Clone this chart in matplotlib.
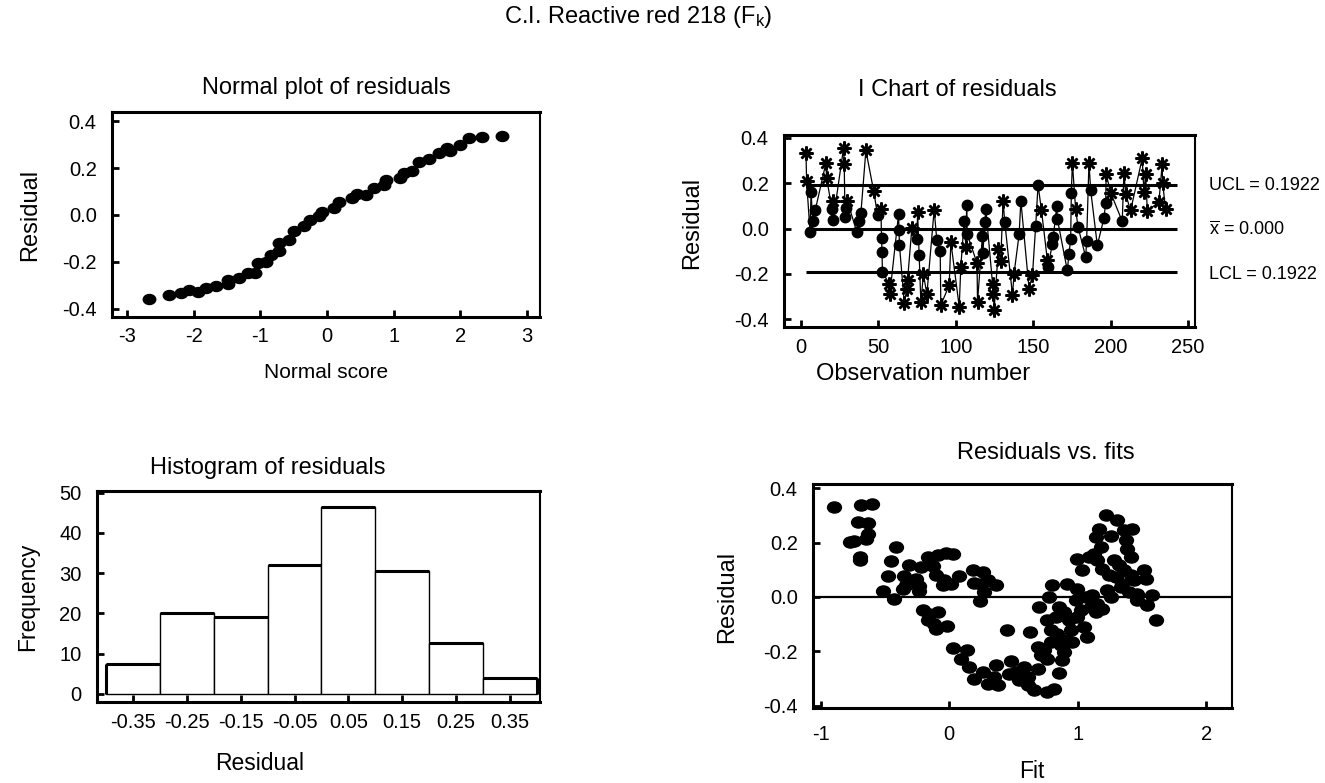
import numpy as np
import matplotlib
matplotlib.use('Agg')
import matplotlib.pyplot as plt
from matplotlib.path import Path
from matplotlib.transforms import Affine2D

plt.rcParams['font.family'] = ['Liberation Sans', 'DejaVu Sans']
plt.rcParams['axes.unicode_minus'] = False
plt.rcParams['mathtext.fontset'] = 'custom'
plt.rcParams['mathtext.rm'] = 'Liberation Sans'
plt.rcParams['mathtext.it'] = 'Liberation Sans:italic'

# ---------------- data ----------------
# Normal plot of residuals
norm_score = [-2.67, -2.37, -2.19, -2.07, -1.93, -1.81, -1.66, -1.49, -1.49, -1.32,
              -1.19, -1.08, -1.04, -0.92, -0.845, -0.72, -0.72, -0.57, -0.495, -0.345,
              -0.26, -0.12, -0.08, 0.10, 0.18, 0.38, 0.45, 0.59, 0.70, 0.855,
              0.89, 1.10, 1.155, 1.28, 1.38, 1.53, 1.68, 1.80, 1.85, 2.0,
              2.13, 2.32, 2.63]
norm_res = [-0.359, -0.342, -0.335, -0.32, -0.33, -0.31, -0.303, -0.295, -0.278, -0.27,
            -0.249, -0.249, -0.207, -0.2, -0.171, -0.154, -0.121, -0.107, -0.067, -0.046,
            -0.021, -0.004, 0.014, 0.028, 0.057, 0.071, 0.09, 0.085, 0.114, 0.128,
            0.15, 0.157, 0.181, 0.19, 0.228, 0.238, 0.264, 0.285, 0.275, 0.299,
            0.328, 0.335, 0.338]

# I chart of residuals
ich_obs = [3.2, 3.6, 5.8, 6.5, 7.5, 9.2, 16.1, 16.5, 20.0, 20.4, 20.8, 27.5, 27.9, 28.4,
           29.0, 30.0, 36.1, 37.6, 38.7, 41.9, 46.9, 49.5, 51.6, 52.0, 52.3, 52.6, 57.0,
           57.4, 63.0, 63.3, 63.6, 66.7, 68.4, 68.8, 71.6, 74.9, 75.3, 76.3, 77.4, 79.1,
           81.3, 86.0, 87.7, 89.9, 90.3, 95.7, 96.8, 102.2, 103.2, 105.4, 106.5, 107.0,
           107.3, 113.7, 114.0, 117.2, 117.5, 118.7, 119.4, 123.7, 124.3, 124.7, 127.5,
           129.0, 130.5, 131.6, 136.6, 137.6, 140.9, 142.0, 147.3, 149.5, 151.6, 153.1,
           155.3, 159.1, 159.4, 162.4, 163.0, 165.2, 165.6, 172.0, 173.1, 174.2, 174.6,
           175.3, 177.4, 178.9, 183.9, 184.5, 186.0, 187.1, 191.4, 195.7, 196.8, 197.1,
           200.0, 207.5, 208.6, 209.7, 212.9, 220.4, 221.5, 222.6, 223.7, 231.2, 233.3,
           233.6, 235.5]
ich_res = [0.335, 0.21, -0.013, 0.16, 0.035, 0.082, 0.29, 0.225, 0.085, 0.123, 0.038, 0.357,
           0.285, 0.053, 0.09, 0.12, -0.016, 0.035, 0.071, 0.345, 0.167, 0.058, 0.087,
           -0.041, -0.101, -0.192, -0.243, -0.287, 0.064, -0.004, -0.074, -0.327, -0.265,
           -0.228, 0.003, -0.046, 0.072, -0.116, -0.323, -0.202, -0.29, 0.083, -0.05, -0.1,
           -0.337, -0.25, -0.06, -0.345, -0.17, 0.035, -0.082, 0.105, -0.024, -0.152,
           -0.323, -0.031, -0.108, 0.028, 0.086, -0.243, -0.287, -0.36, -0.09, -0.142,
           0.122, 0.03, -0.294, -0.199, -0.024, 0.123, -0.265, -0.205, 0.013, 0.193, 0.082,
           -0.138, -0.17, -0.068, -0.035, 0.1, 0.042, -0.184, -0.111, -0.045, 0.158, 0.29,
           0.085, 0.009, -0.126, -0.053, 0.29, 0.17, -0.074, 0.047, 0.115, 0.24, 0.159,
           0.032, 0.247, 0.152, 0.08, 0.31, 0.16, 0.24, 0.077, 0.118, 0.285, 0.2, 0.086]
ich_sym = list("**oooo**o*" "o**oo*ooo*" "*o*ooo**oo" "o****o*o**" "**oo*****o"
               "*oo**oooo*" "*****o**oo" "**oo**oooo" "ooooo**ooo" "*oooo**o**"
               "*********")
ucl = 0.1922
lcl = -0.1922

# Histogram of residuals
hist_centers = [-0.35, -0.25, -0.15, -0.05, 0.05, 0.15, 0.25, 0.35]
hist_counts = [7.5, 20.2, 19, 32, 46.5, 30.6, 12.7, 4]
hist_labels = ['-0.35', '-0.25', '-0.15', '-0.05', '0.05', '0.15', '0.25', '0.35']

# Residuals vs fits
rvf_fit = [-0.894, -0.687, -0.604, -0.712, -0.635, -0.769, -0.738, -0.629, -0.648, -0.692, -0.697,
           -0.415, -0.453, -0.311, -0.474, -0.35, -0.518, -0.427, -0.363, -0.337, -0.259, -0.233, -0.233,
           -0.168, -0.091, -0.026, 0.026, -0.22, -0.13, -0.104, -0.039, 0.013, -0.052, 0.078, 0.181,
           0.259, 0.246, 0.194, 0.298, 0.363, 0.272, 0.241,
           -0.207, -0.155, -0.168, -0.117, -0.091, -0.104, -0.018, 0.026, 0.142, 0.091, 0.155, 0.194,
           0.259, 0.298, 0.376, 0.35, 0.363, 0.453,
           0.479, 0.518, 0.544, 0.466, 0.583, 0.609, 0.609, 0.661, 0.687, 0.63, 0.764, 0.816, 0.855,
           0.687, 0.738, 0.712, 0.79, 0.764, 0.764, 0.79, 0.699, 0.803, 0.777, 0.842, 0.868, 0.881,
           0.894, 0.829,
           0.855, 0.894, 0.933, 0.946, 0.907, 0.959, 0.92, 0.997, 0.984, 1.023, 0.997, 1.049, 1.075,
           1.062, 1.114, 1.101, 1.153, 1.192, 1.14,
           0.997, 1.036, 1.088, 1.127, 1.153, 1.179, 1.14, 1.192,
           1.166, 1.218, 1.308, 1.256, 1.282, 1.321, 1.36, 1.244, 1.295,
           1.36, 1.425, 1.373, 1.386, 1.412,
           1.231, 1.256, 1.334, 1.347,
           1.412, 1.438, 1.399, 1.464, 1.516, 1.528, 1.464, 1.541, 1.58, 1.606]
rvf_res = [0.331, 0.337, 0.341, 0.276, 0.272, 0.202, 0.205, 0.23, 0.214, 0.147, 0.135,
           0.184, 0.132, 0.116, 0.076, 0.076, 0.022, -0.006, 0.031, 0.043, 0.067, 0.039, 0.021,
           0.147, 0.153, 0.162, 0.156, 0.11, 0.113, 0.08, 0.061, 0.049, 0.043, 0.076, 0.098,
           0.092, 0.049, 0.051, 0.061, 0.043, 0.018, -0.015,
           -0.049, -0.061, -0.083, -0.098, -0.055, -0.116, -0.108, -0.186, -0.194, -0.229, -0.257, -0.3,
           -0.276, -0.321, -0.325, -0.294, -0.251, -0.12,
           -0.237, -0.276, -0.306, -0.282, -0.257, -0.294, -0.325, -0.343, -0.264, -0.129, -0.349, -0.337, -0.279,
           -0.184, -0.196, -0.215, -0.165, -0.227, -0.086, -0.123, -0.037, 0.043, 0.0, -0.135, -0.178, -0.233,
           -0.202, -0.074,
           -0.037, -0.055, -0.086, -0.123, -0.159, -0.165, 0.049, 0.031, -0.012, -0.049, -0.074, -0.11, -0.147,
           0.0, 0.006, -0.037, -0.025, -0.043, -0.055,
           0.141, 0.098, 0.147, 0.159, 0.135, 0.184, 0.221, 0.104,
           0.25, 0.3, 0.282, 0.223, 0.135, 0.116, 0.098, 0.08, 0.074,
           0.245, 0.248, 0.208, 0.178, 0.147,
           0.025, 0.0, 0.037, 0.049,
           0.08, 0.061, 0.018, 0.012, 0.098, 0.067, -0.012, -0.031, 0.006, -0.086]

resid_ticks = [-0.4, -0.2, 0.0, 0.2, 0.4]
resid_ticklabels = ['-0.4', '-0.2', '0.0', '0.2', '0.4']

# ---------------- figure ----------------
W, H = 1325, 783
fig = plt.figure(figsize=(W / 100, H / 100), dpi=100)


def px_axes(x0, y0, x1, y1):
    return fig.add_axes([x0 / W, 1 - y1 / H, (x1 - x0) / W, (y1 - y0) / H])


def ftext(x, y, s, size=17, **kw):
    kw.setdefault('ha', 'center')
    kw.setdefault('va', 'center')
    fig.text(x / W, 1 - y / H, s, fontsize=size, **kw)


def style(ax, xpad=7, ypad=11):
    for side in ['left', 'bottom', 'top']:
        ax.spines[side].set_linewidth(2.2)
    ax.spines['right'].set_linewidth(1.5)
    ax.tick_params(direction='in', length=5, width=2, labelsize=14.5)
    ax.tick_params(axis='x', pad=xpad)
    ax.tick_params(axis='y', pad=ypad)
    ax.tick_params(top=False, right=False)


ellipse = Path.unit_circle().transformed(Affine2D().scale(1.25, 1.0))

# Normal plot
ax1 = px_axes(112, 112, 540, 317)
ax1.plot(norm_score, norm_res, linestyle='none', marker=ellipse, ms=9,
         color='black', mec='black')
ax1.set_xlim(-3.225, 3.195)
ax1.set_ylim(-0.436, 0.44)
ax1.set_xticks([-3, -2, -1, 0, 1, 2, 3])
ax1.set_xticklabels(['-3', '-2', '-1', '0', '1', '2', '3'])
ax1.set_yticks(resid_ticks)
ax1.set_yticklabels(resid_ticklabels)
style(ax1, xpad=7)
ftext(326, 88, 'Normal plot of residuals')
ftext(326, 373, 'Normal score', size=15)
ftext(30, 215, 'Residual', rotation=90)

# I chart
ax2 = px_axes(784, 135, 1195, 327)
ax2.plot(ich_obs, ich_res, color='black', lw=0.9, zorder=2)
for sym in ['o', '*']:
    xs = [o for o, s in zip(ich_obs, ich_sym) if s == sym]
    ys = [r for r, s in zip(ich_res, ich_sym) if s == sym]
    if sym == 'o':
        ax2.plot(xs, ys, linestyle='none', marker='o', ms=7.5, color='black', zorder=3)
    else:
        ax2.plot(xs, ys, linestyle='none', marker=(8, 2, 0), ms=10, mew=1.8,
                 color='black', zorder=3)
ax2.hlines([ucl, 0.0, lcl], 3, 243, color='black', lw=2.2, zorder=1)
ax2.set_xlim(-11, 254.5)
ax2.set_ylim(-0.434, 0.413)
ax2.set_xticks([0, 50, 100, 150, 200, 250])
ax2.set_xticklabels(['0', '50', '100', '150', '200', '250'])
ax2.set_yticks(resid_ticks)
ax2.set_yticklabels(resid_ticklabels)
style(ax2, xpad=8)
ftext(957, 90, 'I Chart of residuals')
ftext(923, 374, 'Observation number')
ftext(692, 223, 'Residual', rotation=90)
ftext(1209, 186, 'UCL = 0.1922', size=13, ha='left')
ftext(1209, 230, r'$\overline{\mathrm{x}}$ = 0.000', size=13, ha='left')
ftext(1209, 275, 'LCL = 0.1922', size=13, ha='left')

# Histogram
ax3 = px_axes(97, 491, 540, 702)
hc = np.array(hist_centers)
hh = np.array(hist_counts)
ax3.bar(hc, hh, width=0.1, color='white', edgecolor='black', lw=1.0)
ax3.hlines(hh, hc - 0.05, hc + 0.05, color='black', lw=2.2)
ax3.vlines([hc[0] - 0.05], 0, hh[0], color='black', lw=2.2)
ax3.vlines([hc[-1] + 0.05], 0, hh[-1], color='black', lw=2.2)
ax3.set_xlim(-0.417, 0.406)
ax3.set_ylim(-2.0, 50.4)
ax3.set_xticks(hist_centers)
ax3.set_xticklabels(hist_labels)
ax3.set_yticks([0, 10, 20, 30, 40, 50])
ax3.set_yticklabels(['0', '10', '20', '30', '40', '50'])
style(ax3, xpad=8)
ftext(268, 468, 'Histogram of residuals')
ftext(260, 764, 'Residual', size=16.5)
ftext(28, 597, 'Frequency', size=16.5, rotation=90)

# Residuals vs fits
ax4 = px_axes(813, 484, 1232, 708)
ax4.plot(rvf_fit, rvf_res, linestyle='none', marker=ellipse, ms=10,
         color='black', zorder=3)
ax4.axhline(0.0, color='black', lw=1.6, zorder=2)
ax4.set_xlim(-1.06, 2.2)
ax4.set_ylim(-0.408, 0.415)
ax4.set_xticks([-1, 0, 1, 2])
ax4.set_xticklabels(['-1', '0', '1', '2'])
ax4.set_yticks(resid_ticks)
ax4.set_yticklabels(resid_ticklabels)
style(ax4, xpad=12)
ftext(1046, 453, 'Residuals vs. fits')
ftext(1032, 772, 'Fit', size=16.5)
ftext(727, 597, 'Residual', rotation=90)

# Main title
ftext(638, 17, r'C.I. Reactive red 218 (F$_\mathrm{k}$)')

fig.savefig('out.png', dpi=100)
